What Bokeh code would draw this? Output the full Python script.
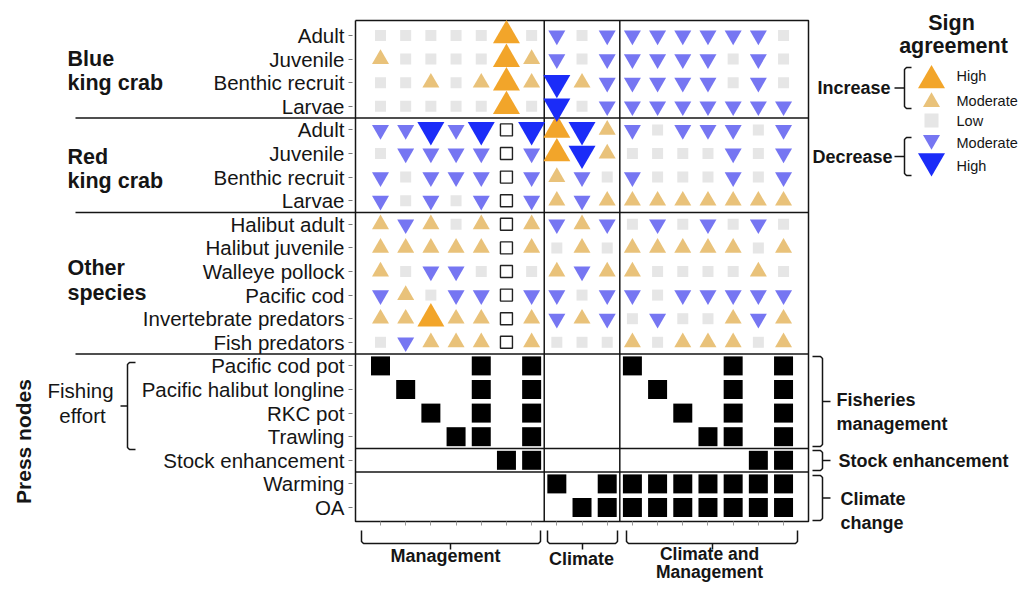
import math
from bokeh.plotting import figure
from bokeh.models import Range1d, LinearAxis, FixedTicker
from bokeh.core.properties import value
from bokeh.embed import file_html
from bokeh.resources import INLINE

# ---------------- data ----------------
row_labels = ["Adult", "Juvenile", "Benthic recruit", "Larvae",
              "Adult", "Juvenile", "Benthic recruit", "Larvae",
              "Halibut adult", "Halibut juvenile", "Walleye pollock", "Pacific cod",
              "Invertebrate predators", "Fish predators",
              "Pacific cod pot", "Pacific halibut longline", "RKC pot", "Trawling",
              "Stock enhancement", "Warming", "OA"]

group_names = [["Blue", "king crab"], ["Red", "king crab"], ["Other", "species"]]
press_header = "Press nodes"
fishing_label = ["Fishing", "effort"]

section_names = [["Management"], ["Climate"], ["Climate and", "Management"]]
press_groups = [["Fisheries", "management"], ["Stock enhancement"], ["Climate", "change"]]

# codes: H+ high increase, M+ moderate increase, L low, M- moderate decrease,
# H- high decrease, O open square, X press applied, . empty
# columns: 7 management | 3 climate | 7 climate and management
bkc_adult    = "L  L  L  L  L  H+ L    M- L  M-   M- M- M- M- M- M- L ".split()
bkc_juvenile = "M+ L  L  L  L  H+ M+   M- L  M-   M- M- M- M- L  M- L ".split()
bkc_benthic  = "L  L  M+ L  M+ H+ M+   H- M+ M-   M- M- M- M- L  M- L ".split()
bkc_larvae   = "L  L  L  L  L  H+ L    H- L  M-   M- M- M- M- M- M- M-".split()
rkc_adult    = "M- M- H- M- H- O  H-   H+ H- M+   M- L  M- M- M- L  M-".split()
rkc_juvenile = "L  M- M- M- M- O  M-   H+ H- M+   L  L  L  L  M- L  M-".split()
rkc_benthic  = "M- L  M- M- M- O  M-   M+ M- L    M- L  L  L  M- L  M-".split()
rkc_larvae   = "M- L  M- L  M- O  M-   M+ M- M+   M+ M+ M+ M+ M+ M+ M+".split()
halibut_ad   = "M+ M- M+ L  M+ O  M+   M- M+ M-   L  M- L  M- L  M- L ".split()
halibut_juv  = "M+ M+ M+ M+ M+ O  M+   L  M+ L    M+ M+ M+ M+ M+ L  M+".split()
pollock      = "M+ L  M- M- L  O  L    M+ M- M+   M+ L  L  L  L  M+ L ".split()
pacific_cod  = "M- M+ L  M- M- O  M-   M- L  M-   M- L  M- M- M- M- M-".split()
invert_pred  = "M+ M+ H+ M+ M+ O  M+   M- M+ M-   L  M- L  L  M+ M- M+".split()
fish_pred    = "L  M- M+ M+ M+ O  M+   L  L  L    M+ L  M+ M+ M+ L  M+".split()
cod_pot      = "X  .  .  .  X  .  X    .  .  .    X  .  .  .  X  .  X ".split()
halibut_ll   = ".  X  .  .  X  .  X    .  .  .    .  X  .  .  X  .  X ".split()
rkc_pot      = ".  .  X  .  X  .  X    .  .  .    .  .  X  .  X  .  X ".split()
trawling     = ".  .  .  X  X  .  X    .  .  .    .  .  .  X  X  .  X ".split()
stock_enh    = ".  .  .  .  .  X  X    .  .  .    .  .  .  .  .  X  X ".split()
warming      = ".  .  .  .  .  .  .    X  .  X    X  X  X  X  X  X  X ".split()
ocean_acid   = ".  .  .  .  .  .  .    .  X  X    X  X  X  X  X  X  X ".split()

grid = [bkc_adult, bkc_juvenile, bkc_benthic, bkc_larvae,
        rkc_adult, rkc_juvenile, rkc_benthic, rkc_larvae,
        halibut_ad, halibut_juv, pollock, pacific_cod, invert_pred, fish_pred,
        cod_pot, halibut_ll, rkc_pot, trawling, stock_enh, warming, ocean_acid]

legend_title = ["Sign", "agreement"]
legend_codes = ["H+", "M+", "L", "M-", "H-"]
legend_labels = ["High", "Moderate", "Low", "Moderate", "High"]
direction_labels = ["Increase", "Decrease"]

# ---------------- styles ----------------
FONT = value("Liberation Sans")
INK = "#151515"
STYLE = {
    "H+": dict(marker="triangle", size=27, fill_color="#F2A52A", line_color=None),
    "M+": dict(marker="triangle", size=17, fill_color="#E9C27A", line_color=None),
    "L":  dict(marker="square", size=11, fill_color="#E6E6E6", line_color=None),
    "M-": dict(marker="inverted_triangle", size=17, fill_color="#7676F2", line_color=None),
    "H-": dict(marker="inverted_triangle", size=27, fill_color="#1B2CF8", line_color=None),
    "O":  dict(marker="square", size=12, fill_color="white", line_color="#222222", line_width=1.4),
    "X":  dict(marker="square", size=19, fill_color="black", line_color=None),
}
LEGEND_SIZE = {"H+": 27, "M+": 17, "L": 14, "M-": 17, "H-": 27}

# layout helpers: reference pixel position -> data coordinates (column / row units)
X0, DX = 380.0, 25.19
Y0, DY = 35.0, 23.6
def X(px): return (px - X0) / DX
def Y(py): return -(py - Y0) / DY

W, H = 1020, 583
p = figure(width=W, height=H,
           x_range=Range1d(X(0), X(W)), y_range=Range1d(Y(H), Y(0)),
           x_axis_type=None, y_axis_type=None,
           output_backend="svg", toolbar_location=None,
           min_border=0, outline_line_color=None, background_fill_color="white")

# ---------------- axes (tick marks + row labels) ----------------
nrows = len(row_labels)
ncols = len(grid[0])
yax = LinearAxis(fixed_location=X(352),
                 ticker=FixedTicker(ticks=[-r for r in range(nrows)]),
                 major_label_overrides={-r: lab for r, lab in enumerate(row_labels)},
                 axis_line_color=None, major_tick_line_color="#777777",
                 major_tick_out=4, major_tick_in=0, minor_tick_line_color=None,
                 major_label_standoff=4,
                 major_label_text_font="Liberation Sans",
                 major_label_text_font_size="20.5px",
                 major_label_text_color=INK)
p.add_layout(yax, "left")

box_l, box_r, box_t, box_b = X(355), X(808), Y(20), Y(521)
xax = LinearAxis(fixed_location=box_b,
                 ticker=FixedTicker(ticks=list(range(ncols))),
                 major_label_overrides={c: "" for c in range(ncols)},
                 axis_line_color=None, major_tick_line_color="#999999",
                 major_tick_out=4, major_tick_in=0, minor_tick_line_color=None,
                 major_label_text_font_size="1px")
p.add_layout(xax, "below")

# ---------------- frame lines ----------------
xs, ys = [], []
xs.append([box_l, box_r, box_r, box_l, box_l]); ys.append([box_t, box_t, box_b, box_b, box_t])
for sep in (6.5, 9.5):
    xs.append([sep, sep]); ys.append([box_t, box_b])
for sep in (3.5, 7.5, 13.5):
    xs.append([X(75), box_r]); ys.append([-sep, -sep])
for sep in (17.5, 18.5):
    xs.append([box_l, box_r]); ys.append([-sep, -sep])
p.multi_line(xs, ys, line_color=INK, line_width=1.5)

# ---------------- brackets ----------------
bx, by = [], []
def add(pts):
    bx.append([X(a) for a, b in pts]); by.append([Y(b) for a, b in pts])

def brace_tip_left(xv, y1, y2, hook, tip):
    ym = (y1 + y2) / 2
    add([(hook, y1), (xv + 2, y1), (xv, y1 + 2), (xv, y2 - 2), (xv + 2, y2), (hook, y2)])
    add([(xv, ym), (tip, ym)])

def brace_tip_right(xv, y1, y2, hook, tip):
    ym = (y1 + y2) / 2
    add([(hook, y1), (xv - 2, y1), (xv, y1 + 2), (xv, y2 - 2), (xv - 2, y2), (hook, y2)])
    add([(xv, ym), (tip, ym)])

def brace_tip_down(x1, x2, yh, hook, tip, xm):
    add([(x1, hook), (x1, yh - 2), (x1 + 2, yh), (x2 - 2, yh), (x2, yh - 2), (x2, hook)])
    add([(xm, yh), (xm, tip)])

brace_tip_left(127, 362, 449, 135, 120)       # fishing effort
brace_tip_left(904, 67, 108, 911, 894)        # increase
brace_tip_left(904, 137, 175, 911, 894)       # decrease
brace_tip_right(822, 356, 446, 812, 830)      # fisheries management
brace_tip_right(822, 450, 470, 812, 830)      # stock enhancement
brace_tip_right(822, 475, 520, 812, 830)      # climate change
brace_tip_down(361, 540, 543, 530, 549, 450)  # management
brace_tip_down(547, 617, 543, 530, 549, 582)  # climate
brace_tip_down(626, 797, 543, 530, 549, 712)  # climate and management
p.multi_line(bx, by, line_color=INK, line_width=1.5)

# ---------------- cells ----------------
for code, st in STYLE.items():
    cx, cy = [], []
    for r, row in enumerate(grid):
        for c, v in enumerate(row):
            if v == code:
                cx.append(c); cy.append(-r)
    if cx:
        p.scatter(cx, cy, **st)

# ---------------- legend ----------------
leg_y = [80, 101.5, 120, 139.5, 160.5]
lab_y = [75, 100, 120, 142, 165]
for code, yy in zip(legend_codes, leg_y):
    st = dict(STYLE[code]); st["size"] = LEGEND_SIZE[code]
    p.scatter([X(931)], [Y(yy)], **st)

def txt(xs, ys, texts, size, bold=False, align="left", angle=0.0):
    p.text(x=[X(v) for v in xs], y=[Y(v) for v in ys], text=texts,
           text_font=FONT, text_font_size=size,
           text_font_style="bold" if bold else "normal",
           text_align=align, text_baseline="middle", text_color=INK, angle=angle)

txt([956] * 5, lab_y, legend_labels, "14.5px")
txt([951, 953], [22, 45], legend_title, "21.5px", bold=True, align="center")
txt([890, 892], [87, 156], direction_labels, "18px", bold=True, align="right")

# group labels on the left
grp_y = [(58, 82), (156, 180), (267, 292)]
for names, (y1, y2) in zip(group_names, grp_y):
    txt([67, 67], [y1, y2], names, "21.5px", bold=True)
txt([23], [441], [press_header], "21px", bold=True, align="center", angle=math.pi / 2)
txt([80, 82], [390, 415], fishing_label, "20.5px", align="center")

# press-node group labels on the right
txt([836, 836], [399, 423], press_groups[0], "18px", bold=True)
txt([838], [460], press_groups[1], "18px", bold=True)
txt([840, 840], [498, 522], press_groups[2], "18px", bold=True)

# section labels at the bottom
txt([445], [555], section_names[0], "18px", bold=True, align="center")
txt([581], [558], section_names[1], "18px", bold=True, align="center")
txt([709, 709], [553, 571], section_names[2], "17.5px", bold=True, align="center")

open("out.html", "w").write(file_html(p, INLINE))
